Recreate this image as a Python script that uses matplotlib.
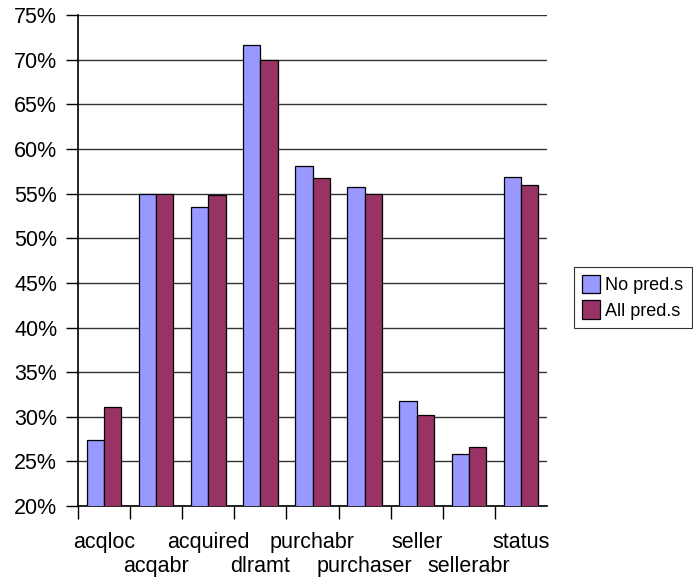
import matplotlib.pyplot as plt
import numpy as np
from matplotlib.ticker import FixedLocator, NullFormatter

plt.rcParams['font.family'] = ['Liberation Sans', 'DejaVu Sans']

# Accuracy per predicate
categories = ['acqloc', 'acqabr', 'acquired', 'dlramt', 'purchabr',
              'purchaser', 'seller', 'sellerabr', 'status']
no_preds = [27.4, 55.0, 53.5, 71.7, 58.1, 55.7, 31.8, 25.8, 56.9]
all_preds = [31.1, 55.0, 54.8, 70.0, 56.8, 55.0, 30.2, 26.6, 56.0]
yticks = [20, 25, 30, 35, 40, 45, 50, 55, 60, 65, 70, 75]

fig = plt.figure(figsize=(6.93, 5.83), dpi=100)
ax = fig.add_axes([0.1125, 0.132, 0.677, 0.842])

x = np.arange(len(categories))
w = 0.332
ax.bar(x - w / 2, no_preds, w, color='#9999FF', edgecolor='black',
       linewidth=0.9, label='No pred.s', zorder=3)
ax.bar(x + w / 2, all_preds, w, color='#993366', edgecolor='black',
       linewidth=0.9, label='All pred.s', zorder=3)

ax.set_xlim(-0.5, len(categories) - 0.5)
ax.set_ylim(20, 75)
ax.set_yticks(yticks)
ax.set_yticklabels([f'{t}%' for t in yticks], fontsize=15.5)
ax.yaxis.grid(True, color='#333333', linewidth=1.0, zorder=0)
ax.tick_params(axis='y', direction='out', length=9, width=1, pad=6)

# category boundary ticks, staggered labels
ax.xaxis.set_major_locator(FixedLocator(np.arange(-0.5, len(categories) - 1, 1.0)))
ax.xaxis.set_major_formatter(NullFormatter())
ax.tick_params(axis='x', direction='out', length=9, width=1)
for i, name in enumerate(categories):
    yoff = -0.0855 if i % 2 == 0 else -0.134
    ax.text(i, yoff, name, transform=ax.get_xaxis_transform(),
            ha='center', va='baseline', fontsize=15.5)

for s in ['top', 'right']:
    ax.spines[s].set_visible(False)
ax.spines['left'].set_linewidth(1.2)
ax.spines['bottom'].set_linewidth(1.2)

leg = fig.legend(loc='center', bbox_to_anchor=(0.913, 0.490), fontsize=13,
                 frameon=True, fancybox=False, edgecolor='black',
                 handlelength=1.0, handleheight=1.2, handletextpad=0.3,
                 borderpad=0.45, labelspacing=0.35, borderaxespad=0)
leg.get_frame().set_linewidth(0.8)

fig.savefig('out.png', dpi=100)
